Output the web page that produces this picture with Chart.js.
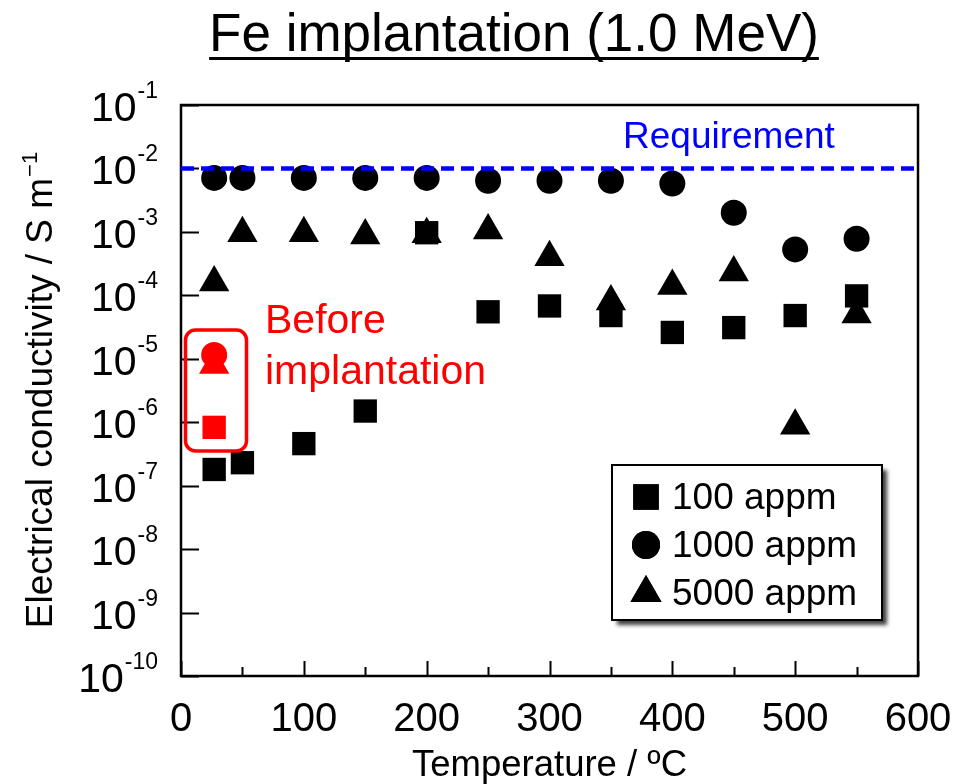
<!DOCTYPE html>
<html>
<head>
<meta charset="utf-8">
<script src="https://cdn.jsdelivr.net/npm/chart.js@4/dist/chart.umd.min.js"></script>
<style>
  html, body { margin: 0; padding: 0; background: #fff; }
  #wrap { width: 958px; height: 784px; }
</style>
</head>
<body>
<div id="wrap"><canvas id="c" width="958" height="784"></canvas></div>
<script>
// Implantation temperature (ºC) and measured conductivity (S m^-1)
const temps = [27, 50, 100, 150, 200, 250, 300, 350, 400, 450, 500, 550];
const appm100 = [1.8e-7, 2.3e-7, 4.6e-7, 1.5e-6, 9.7e-4, 5.5e-5, 6.8e-5, 4.8e-5, 2.6e-5, 3.1e-5, 4.8e-5, 9.8e-5];
const appm1000 = [7.1e-3, 7.1e-3, 7.1e-3, 7.1e-3, 7.1e-3, 6.4e-3, 6.4e-3, 6.4e-3, 5.8e-3, 2.0e-3, 5.3e-4, 7.8e-4];
const appm5000 = [1.6e-4, 9.5e-4, 9.5e-4, 8.8e-4, 9.2e-4, 1.05e-3, 4.0e-4, 8.0e-5, 1.4e-4, 2.3e-4, 8.8e-7, 5.0e-5];

// Unimplanted reference samples (room temperature)
const beforeTemp = [27];
const before100 = [8.3e-7];
const before1000 = [1.15e-5];
const before5000 = [8.0e-6];

const requirement = 1e-2;
const seriesNames = ['100 appm', '1000 appm', '5000 appm'];
const xTickValues = [0, 100, 200, 300, 400, 500, 600];
const xMinorTicks = [50, 150, 250, 350, 450, 550];
const yExponents = [-1, -2, -3, -4, -5, -6, -7, -8, -9, -10];

const FONT = '"Liberation Sans", Arial, Helvetica, sans-serif';
const RED = '#ff0000';
const BLUE = '#0000ff';

const pts = (xs, ys) => ys.map((y, i) => ({ x: xs[i], y }));
const styles = {
  square: { pointStyle: 'rect', radius: 16.5 },
  circle: { pointStyle: 'circle', radius: 13 },
  triangle: { pointStyle: 'triangle', radius: 17.5 }
};
const mk = (label, data, st, color, order) => ({
  type: 'scatter', label, data,
  pointStyle: st.pointStyle, pointRadius: st.radius, pointHoverRadius: st.radius,
  backgroundColor: color, borderColor: color, borderWidth: 0, order
});

const datasets = [
  {
    type: 'line', label: 'Requirement',
    data: [{ x: 0, y: requirement }, { x: 600, y: requirement }],
    borderColor: BLUE, borderWidth: 4.5, borderDash: [13, 7],
    pointRadius: 0, fill: false, order: 0
  },
  mk(seriesNames[2], pts(temps, appm5000), styles.triangle, '#000', 3),
  mk(seriesNames[1], pts(temps, appm1000), styles.circle, '#000', 2),
  mk(seriesNames[0], pts(temps, appm100), styles.square, '#000', 1),
  mk('before 5000', pts(beforeTemp, before5000), styles.triangle, RED, 3),
  mk('before 1000', pts(beforeTemp, before1000), styles.circle, RED, 2),
  mk('before 100', pts(beforeTemp, before100), styles.square, RED, 1)
];

function drawMarker(ctx, st, x, y, color) {
  ctx.fillStyle = color;
  ctx.strokeStyle = color;
  Chart.helpers.drawPoint(ctx, { pointStyle: st.pointStyle, radius: st.radius, rotation: 0, borderWidth: 0 }, x, y);
  ctx.fill();
}

const decorations = {
  id: 'decorations',
  beforeDatasetsDraw(chart) {
    const { ctx, chartArea: a, scales } = chart;
    ctx.save();
    ctx.strokeStyle = '#000';
    ctx.lineWidth = 2;
    // inward ticks
    ctx.beginPath();
    xTickValues.forEach(v => {
      const px = Math.round(scales.x.getPixelForValue(v)) + 0.5;
      ctx.moveTo(px, a.bottom); ctx.lineTo(px, a.bottom - 15);
    });
    xMinorTicks.forEach(v => {
      const px = Math.round(scales.x.getPixelForValue(v)) + 0.5;
      ctx.moveTo(px, a.bottom); ctx.lineTo(px, a.bottom - 9);
    });
    yExponents.forEach(e => {
      const py = Math.round(scales.y.getPixelForValue(Math.pow(10, e))) + 0.5;
      ctx.moveTo(a.left, py); ctx.lineTo(a.left + 18, py);
    });
    ctx.stroke();
    // frame
    ctx.lineWidth = 2.5;
    ctx.strokeRect(a.left, a.top, a.right - a.left, a.bottom - a.top);
    ctx.restore();
  },
  afterDraw(chart) {
    const { ctx, chartArea: a, scales } = chart;
    ctx.save();
    ctx.fillStyle = '#000';

    // title, underlined
    ctx.font = '53px ' + FONT;
    ctx.textAlign = 'center';
    ctx.textBaseline = 'alphabetic';
    const title = 'Fe implantation (1.0 MeV)';
    const tx = 514, ty = 51;
    ctx.fillText(title, tx, ty);
    const tw = ctx.measureText(title).width;
    ctx.fillRect(tx - tw / 2, ty + 6, tw, 3);

    // x tick labels
    ctx.font = '40px ' + FONT;
    xTickValues.forEach(v => {
      ctx.fillText(String(v), scales.x.getPixelForValue(v), 731);
    });

    // y tick labels 10^n
    yExponents.forEach(e => {
      const py = scales.y.getPixelForValue(Math.pow(10, e));
      const sup = String(e);
      ctx.font = '23px ' + FONT;
      const sw = ctx.measureText(sup).width;
      ctx.textAlign = 'left';
      const right = 158;
      ctx.fillText(sup, right - sw, py - 7);
      ctx.font = '41px ' + FONT;
      const bw = ctx.measureText('10').width;
      ctx.fillText('10', right - sw - bw - 1, py + 16);
    });

    // axis titles
    ctx.font = '36.5px ' + FONT;
    ctx.textAlign = 'center';
    ctx.fillText('Temperature / ºC', (a.left + a.right) / 2, 776);
    ctx.save();
    ctx.translate(52, (a.top + a.bottom) / 2);
    ctx.rotate(-Math.PI / 2);
    const yl = 'Electrical conductivity / S m';
    ctx.font = '37px ' + FONT;
    const ylw = ctx.measureText(yl).width;
    ctx.font = '22px ' + FONT;
    const supw = ctx.measureText('\u22121').width;
    ctx.textAlign = 'left';
    ctx.font = '37px ' + FONT;
    ctx.fillText(yl, -(ylw + supw) / 2, 0);
    ctx.font = '22px ' + FONT;
    ctx.fillText('\u22121', -(ylw + supw) / 2 + ylw + 1, -15);
    ctx.restore();

    // requirement label
    ctx.fillStyle = BLUE;
    ctx.font = '37px ' + FONT;
    ctx.textAlign = 'left';
    ctx.fillText('Requirement', 623, 148);

    // before-implantation group
    ctx.strokeStyle = RED;
    ctx.lineWidth = 3.5;
    ctx.beginPath();
    ctx.roundRect(185.5, 330, 61, 121, 10);
    ctx.stroke();
    ctx.fillStyle = RED;
    ctx.font = '41px ' + FONT;
    ctx.fillText('Before', 265, 333);
    ctx.fillText('implantation', 265, 384);

    // legend box with drop shadow
    const lx = 612, ly = 465, lw = 270, lh = 155;
    ctx.save();
    ctx.shadowColor = 'rgba(0,0,0,0.75)';
    ctx.shadowBlur = 4;
    ctx.shadowOffsetX = 5;
    ctx.shadowOffsetY = 5;
    ctx.fillStyle = '#fff';
    ctx.fillRect(lx, ly, lw, lh);
    ctx.restore();
    ctx.strokeStyle = '#000';
    ctx.lineWidth = 2;
    ctx.strokeRect(lx, ly, lw, lh);
    const entries = [
      [seriesNames[0], { pointStyle: 'rect', radius: 18 }, 497],
      [seriesNames[1], { pointStyle: 'circle', radius: 14 }, 545],
      [seriesNames[2], { pointStyle: 'triangle', radius: 18 }, 593]
    ];
    ctx.font = '37px ' + FONT;
    ctx.textBaseline = 'middle';
    entries.forEach(([name, st, y]) => {
      drawMarker(ctx, st, 646, y, '#000');
      ctx.fillStyle = '#000';
      ctx.fillText(name, 672, y + 2);
    });
    ctx.restore();
  }
};

new Chart(document.getElementById('c'), {
  data: { datasets },
  options: {
    responsive: false,
    animation: false,
    layout: { padding: { top: 105, right: 40, left: 0, bottom: 0 } },
    plugins: { legend: { display: false }, tooltip: { enabled: false }, title: { display: false } },
    events: [],
    scales: {
      x: {
        type: 'linear', min: 0, max: 600,
        ticks: { display: false, stepSize: 100 },
        grid: { display: false }, border: { display: false },
        afterFit(s) { s.height = 108; }
      },
      y: {
        type: 'logarithmic', min: 1e-10, max: 1e-1,
        ticks: { display: false },
        grid: { display: false }, border: { display: false },
        afterFit(s) { s.width = 181; }
      }
    }
  },
  plugins: [decorations]
});
</script>
</body>
</html>
